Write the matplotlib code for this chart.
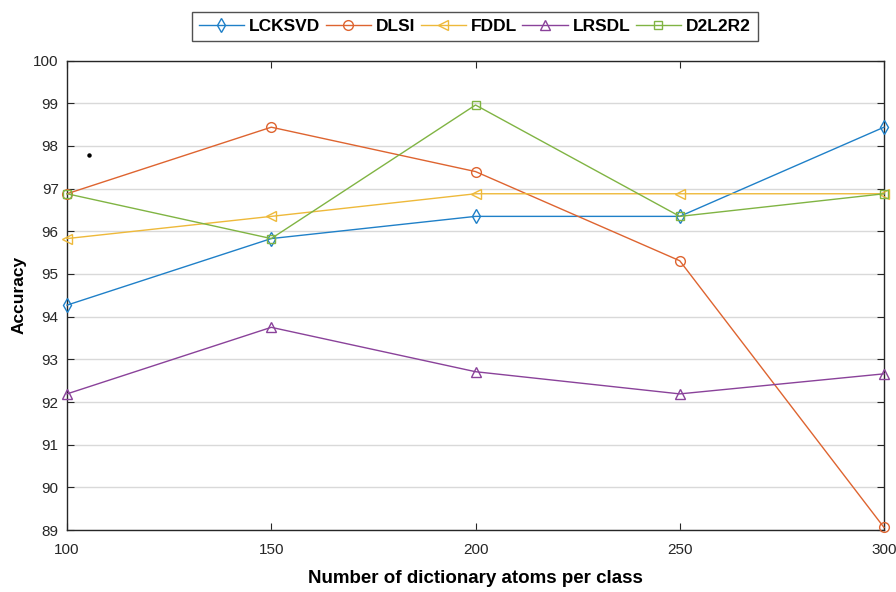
import matplotlib
matplotlib.use("Agg")
import matplotlib.pyplot as plt

atoms = [100, 150, 200, 250, 300]
lcksvd = [94.27, 95.83, 96.35, 96.35, 98.44]
dlsi = [96.88, 98.44, 97.40, 95.31, 89.06]
fddl = [95.83, 96.35, 96.88, 96.88, 96.88]
lrsdl = [92.19, 93.75, 92.71, 92.19, 92.66]
d2l2r2 = [96.88, 95.83, 98.96, 96.35, 96.88]

series = [
    ("LCKSVD", lcksvd, "#1f80c8", "d"),
    ("DLSI", dlsi, "#de6430", "o"),
    ("FDDL", fddl, "#eeb93a", "<"),
    ("LRSDL", lrsdl, "#8a429a", "^"),
    ("D2L2R2", d2l2r2, "#80b443", "s"),
]

plt.rcParams['font.family'] = ['Liberation Sans Narrow', 'Liberation Sans', 'DejaVu Sans']

fig = plt.figure(figsize=(8.96, 5.92), dpi=100)
ax = fig.add_axes([0.0748, 0.1047, 0.9118, 0.7929])

for name, vals, color, mk in series:
    ms = 7 if mk in ("d", "o", "<", "^") else 6
    ax.plot(atoms, vals, color=color, marker=mk, markersize=ms,
            markerfacecolor="none", markeredgewidth=1.0, linewidth=1.0,
            label=name, clip_on=False, zorder=3)

# small stray point near the top-left
ax.plot([105.5], [97.8], marker="o", color="black", markersize=2.2, linestyle="none")

ax.set_xlim(100, 300)
ax.set_ylim(89, 100)
ax.set_xticks(atoms)
ax.set_yticks(range(89, 101))
ax.grid(axis="y", color="#d9d9d9", linewidth=1.0)
ax.set_axisbelow(True)
ax.tick_params(direction="in", length=5, width=0.8, colors="#262626",
               labelsize=11, top=True, right=True)
ax.tick_params(axis="x", pad=9)
ax.tick_params(axis="y", pad=6)
for sp in ax.spines.values():
    sp.set_color("#262626")
    sp.set_linewidth(1.0)

ax.set_xlabel("Number of dictionary atoms per class", fontsize=13.5,
              fontweight="bold", labelpad=10)
ax.set_ylabel("Accuracy", fontsize=12.5, fontweight="bold", labelpad=5)

leg = fig.legend(loc="center", bbox_to_anchor=(0.53, 0.956), ncol=5,
                 frameon=True, fancybox=False,
                 prop={"weight": "bold", "size": 12.5},
                 handlelength=2.6, handletextpad=0.3, columnspacing=0.3,
                 borderpad=0.4)
leg.get_frame().set_edgecolor("#262626")
leg.get_frame().set_linewidth(1.0)

fig.savefig("out.png", dpi=100)
